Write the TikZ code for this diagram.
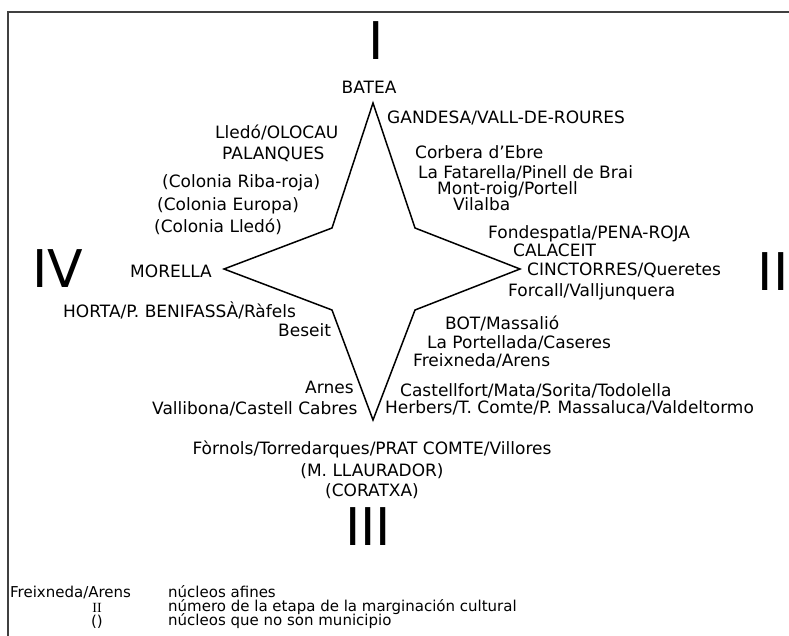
\documentclass[tikz,border=0pt]{standalone}
\usepackage{fontspec}
\setmainfont{DejaVu Sans}
\newfontfamily\legserif{Liberation Serif}
\tikzset{
  lbl/.style={inner sep=0pt, font=\fontsize{17}{19}\selectfont},
  leg/.style={inner sep=0pt, font=\fontsize{15}{17}\selectfont},
  roman/.style={inner sep=0pt, font=\fontsize{52}{56}\selectfont},
  frameline/.style={line width=2pt, draw=black!75},
  starline/.style={line width=1.5pt, draw=black, line join=miter}
}
\begin{document}
\begin{tikzpicture}[x=1pt,y=-1pt]
\useasboundingbox (0,0) rectangle (789,636);
% frame
\coordinate (fbl) at (8,636);
\coordinate (ftl) at (8,12);
\coordinate (ftr) at (789,12);
\draw[frameline] (fbl) -- (ftl) -- (ftr);
% star
\coordinate (sT) at (373,103);
\coordinate (sUR) at (415,228);
\coordinate (sR) at (520,269);
\coordinate (sLR) at (415,310);
\coordinate (sB) at (373,420);
\coordinate (sLL) at (332,310);
\coordinate (sL) at (224,269);
\coordinate (sUL) at (332,228);
\draw[starline] (sT) -- (sUR) -- (sR) -- (sLR) -- (sB) -- (sLL) -- (sL) -- (sUL) -- cycle;
% roman numerals
\node[roman, anchor=base] (rI) at (376,60) {I};
\node[roman, anchor=base] (rII) at (773,290) {II};
\node[roman, anchor=base] (rIII) at (368,545) {III};
\node[roman, anchor=base] (rIV) at (58,287) {IV};
% top
\node[lbl, anchor=base] (batea) at (369,94) {BATEA};
\node[lbl, anchor=base west] (gandesa) at (387,124) {GANDESA/VALL-DE-ROURES};
% upper left
\node[lbl, anchor=base west] (lledo) at (215,139) {Lledó/OLOCAU};
\node[lbl, anchor=base west] (palanques) at (222,160) {PALANQUES};
\node[lbl, anchor=base west] (cribaroja) at (162,188) {(Colonia Riba-roja)};
\node[lbl, anchor=base west] (ceuropa) at (157,211) {(Colonia Europa)};
\node[lbl, anchor=base west] (clledo) at (154,233) {(Colonia Lledó)};
% upper right
\node[lbl, anchor=base west] (corbera) at (415,159) {Corbera d’Ebre};
\node[lbl, anchor=base west] (fatarella) at (418,179) {La Fatarella/Pinell de Brai};
\node[lbl, anchor=base west] (montroig) at (437,195) {Mont-roig/Portell};
\node[lbl, anchor=base west] (vilalba) at (453,211) {Vilalba};
\node[lbl, anchor=base west] (fondespatla) at (488,239) {Fondespatla/PENA-ROJA};
\node[lbl, anchor=base west] (calaceit) at (513,257) {CALACEIT};
\node[lbl, anchor=base west] (cinctorres) at (527,276) {CINCTORRES/Queretes};
\node[lbl, anchor=base west] (forcall) at (508,296) {Forcall/Valljunquera};
% left
\node[lbl, anchor=base west] (morella) at (130,277) {MORELLA};
\node[lbl, anchor=base west] (horta) at (63,317) {HORTA/P. BENIFASSÀ/Ràfels};
\node[lbl, anchor=base west] (beseit) at (278,336) {Beseit};
\node[lbl, anchor=base west] (arnes) at (305,393) {Arnes};
\node[lbl, anchor=base west] (vallibona) at (152,414) {Vallibona/Castell Cabres};
% lower right
\node[lbl, anchor=base west] (bot) at (445,329) {BOT/Massalió};
\node[lbl, anchor=base west] (portellada) at (427,348) {La Portellada/Caseres};
\node[lbl, anchor=base west] (freixneda) at (413,366) {Freixneda/Arens};
\node[lbl, anchor=base west] (castellfort) at (400,396) {Castellfort/Mata/Sorita/Todolella};
\node[lbl, anchor=base west] (herbers) at (385,413) {Herbers/T. Comte/P. Massaluca/Valdeltormo};
% bottom
\node[lbl, anchor=base] (fornols) at (372,454) {Fòrnols/Torredarques/PRAT COMTE/Villores};
\node[lbl, anchor=base] (llaurador) at (372,476) {(M. LLAURADOR)};
\node[lbl, anchor=base] (coratxa) at (372,496) {(CORATXA)};
% legend
\node[leg, anchor=base west] (lg1a) at (10,597) {Freixneda/Arens};
\node[leg, anchor=base, font=\legserif\fontsize{14}{16}\selectfont] (lg2a) at (97,612) {II};
\node[leg, anchor=base] (lg3a) at (97,626) {()};
\node[leg, anchor=base west] (lg1b) at (168,597) {núcleos afines};
\node[leg, anchor=base west] (lg2b) at (168,611) {número de la etapa de la marginación cultural};
\node[leg, anchor=base west] (lg3b) at (168,625) {núcleos que no son municipio};
\end{tikzpicture}
\end{document}
